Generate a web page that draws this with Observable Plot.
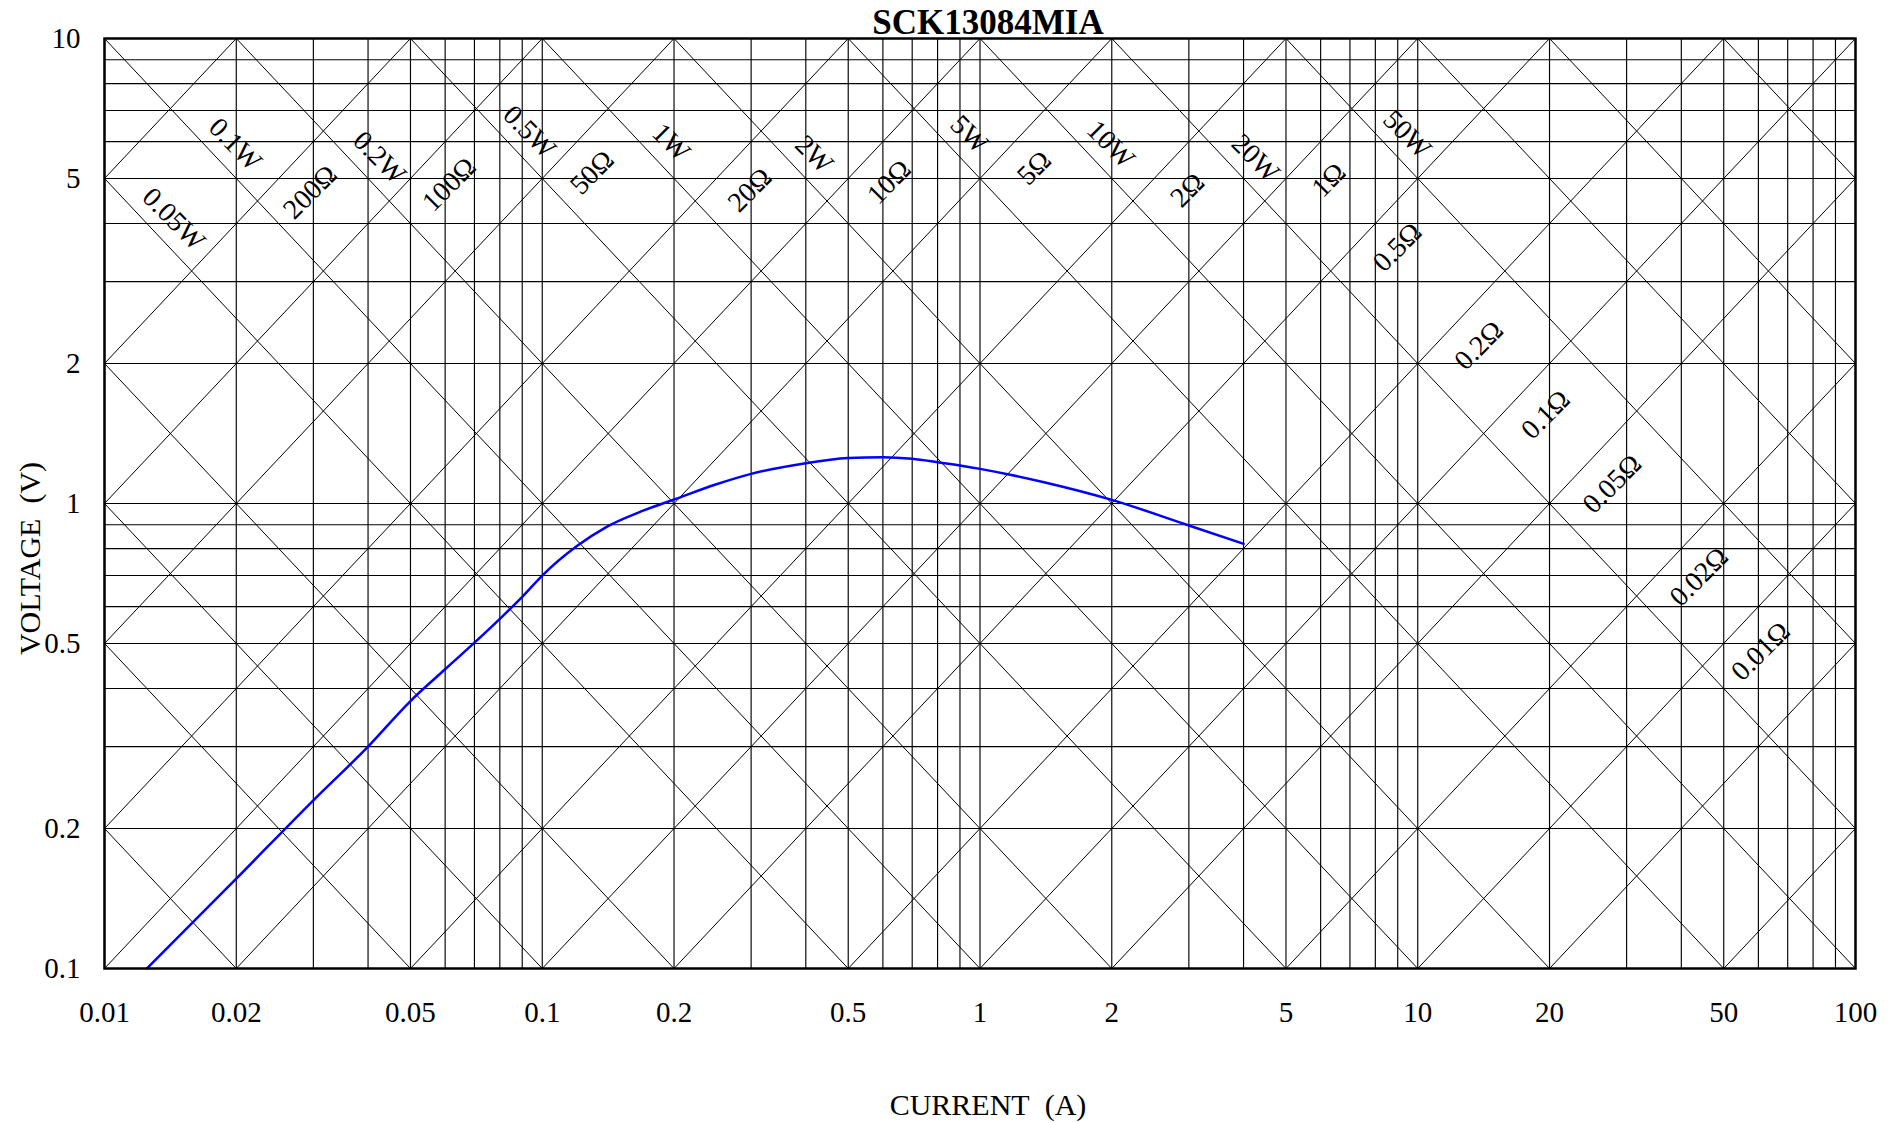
<!DOCTYPE html>
<html>
<head>
<meta charset="utf-8">
<script src="https://cdn.jsdelivr.net/npm/d3@7"></script>
<script src="https://cdn.jsdelivr.net/npm/@observablehq/plot@0.6"></script>
<style>
  html, body { margin: 0; padding: 0; background: #fff; overflow: hidden; }
</style>
</head>
<body>
<div id="chart"></div>
<script>
// ---- chart text ----
const title = "SCK13084MIA";
const xLabel = "CURRENT\u00a0\u00a0(A)";
const yLabel = "VOLTAGE\u00a0\u00a0(V)";

// ---- measured characteristic (current A, voltage V) ----
const currentA = [0.0125, 0.02, 0.03, 0.04, 0.05, 0.06, 0.07, 0.08, 0.09, 0.1, 0.12, 0.14, 0.17, 0.2, 0.25, 0.3, 0.4, 0.5, 0.6, 0.7, 0.8, 0.9, 1.0, 1.4, 2.0, 3.0, 4.0];
const voltageV = [0.1, 0.156, 0.230, 0.300, 0.376, 0.440, 0.502, 0.565, 0.63, 0.70, 0.81, 0.89, 0.965, 1.02, 1.10, 1.158, 1.221, 1.252, 1.258, 1.248, 1.227, 1.207, 1.187, 1.111, 1.018, 0.897, 0.819];

// ---- axes ----
const xTicks = [0.01, 0.02, 0.05, 0.1, 0.2, 0.5, 1, 2, 5, 10, 20, 50, 100];
const yTicks = [0.1, 0.2, 0.5, 1, 2, 5, 10];
const gridX = [0.01, 0.02, 0.03, 0.04, 0.05, 0.06, 0.07, 0.08, 0.09,
               0.1, 0.2, 0.3, 0.4, 0.5, 0.6, 0.7, 0.8, 0.9,
               1, 2, 3, 4, 5, 6, 7, 8, 9,
               10, 20, 30, 40, 50, 60, 70, 80, 90, 100];
const gridY = [0.1, 0.2, 0.3, 0.4, 0.5, 0.6, 0.7, 0.8, 0.9,
               1, 2, 3, 4, 5, 6, 7, 8, 9, 10];

// ---- constant power (W) and resistance (Ω) guide lines ----
const powerW = [0.002, 0.005, 0.01, 0.02, 0.05, 0.1, 0.2, 0.5, 1, 2, 5, 10, 20, 50, 100, 200, 500];
const resistanceOhm = [500, 200, 100, 50, 20, 10, 5, 2, 1, 0.5, 0.2, 0.1, 0.05, 0.02, 0.01, 0.005, 0.002];

// ---- guide-line labels: value and the current at which each label sits ----
const powerLabelW   = [0.05, 0.1, 0.2, 0.5, 1, 2, 5, 10, 20, 50];
const powerLabelAtA = [0.0144, 0.0199, 0.0425, 0.0935, 0.197, 0.418, 0.946, 1.99, 4.26, 9.46];
const resistanceLabelOhm = [200, 100, 50, 20, 10, 5, 2, 1, 0.5, 0.2, 0.1, 0.05, 0.02, 0.01];
const resistanceLabelAtA = [0.0295, 0.0613, 0.130, 0.298, 0.62, 1.33, 2.98, 6.26, 8.98, 13.8, 19.6, 27.8, 43.9, 60.7];

// ---- derived tables ----
const xDomain = [xTicks[0], xTicks[xTicks.length - 1]];
const yDomain = [yTicks[0], yTicks[yTicks.length - 1]];
const curve = currentA.map((c, i) => ({c, v: voltageV[i]}));
const pLines = powerW.map(p => {
  const a = Math.max(xDomain[0], p / yDomain[1]);
  const b = Math.min(xDomain[1], p / yDomain[0]);
  return {x1: a, y1: p / a, x2: b, y2: p / b};
});
const rLines = resistanceOhm.map(r => {
  const a = Math.max(xDomain[0], yDomain[0] / r);
  const b = Math.min(xDomain[1], yDomain[1] / r);
  return {x1: a, y1: r * a, x2: b, y2: r * b};
});
const pLabels = powerLabelW.map((p, i) => ({c: powerLabelAtA[i], v: p / powerLabelAtA[i], t: `${p}W`}));
const rLabels = resistanceLabelOhm.map((r, i) => ({c: resistanceLabelAtA[i], v: r * resistanceLabelAtA[i], t: `${r}Ω`}));

const font = "'Liberation Serif', 'Times New Roman', Times, serif";
const centered = {textAnchor: "middle", lineAnchor: "middle", fontFamily: font, fill: "#000"};

const chart = Plot.plot({
  width: 1896,
  height: 1123,
  marginLeft: 104,
  marginRight: 41,
  marginTop: 38,
  marginBottom: 155,
  x: {type: "log", domain: xDomain, label: null},
  y: {type: "log", domain: yDomain, label: null},
  style: {fontFamily: font, fontSize: "29px", color: "#000", background: "#fff"},
  marks: [
    Plot.ruleX(gridX, {stroke: "#000", strokeWidth: 1.15}),
    Plot.ruleY(gridY, {stroke: "#000", strokeWidth: 1.15}),
    Plot.link(pLines, {x1: "x1", y1: "y1", x2: "x2", y2: "y2", stroke: "#000", strokeWidth: 1}),
    Plot.link(rLines, {x1: "x1", y1: "y1", x2: "x2", y2: "y2", stroke: "#000", strokeWidth: 1}),
    Plot.line(curve, {x: "c", y: "v", stroke: "#0000ff", strokeWidth: 2.5, curve: "monotone-x"}),
    Plot.text(pLabels, {x: "c", y: "v", text: "t", rotate: 45, dy: -33, fontSize: 28, ...centered}),
    Plot.text(rLabels, {x: "c", y: "v", text: "t", rotate: -45, dy: 47, fontSize: 28, ...centered}),
    Plot.frame({stroke: "#000", strokeWidth: 2.5}),
    Plot.axisX(xTicks, {tickSize: 0, tickPadding: 33, label: null, fontSize: 29, tickFormat: d => String(d)}),
    Plot.axisY(yTicks, {tickSize: 0, tickPadding: 24, label: null, fontSize: 29, tickFormat: d => String(d)}),
    Plot.text([xLabel], {text: d => d, frameAnchor: "bottom", dx: 8, dy: 137, fontSize: 30, ...centered}),
    Plot.text([yLabel], {text: d => d, frameAnchor: "left", rotate: -90, dx: -74, dy: 55, fontSize: 30, ...centered}),
    Plot.text([title], {text: d => d, frameAnchor: "top", dx: 8, dy: -16, fontSize: 35, fontWeight: "bold", ...centered})
  ]
});
document.getElementById("chart").appendChild(chart);
</script>
</body>
</html>
